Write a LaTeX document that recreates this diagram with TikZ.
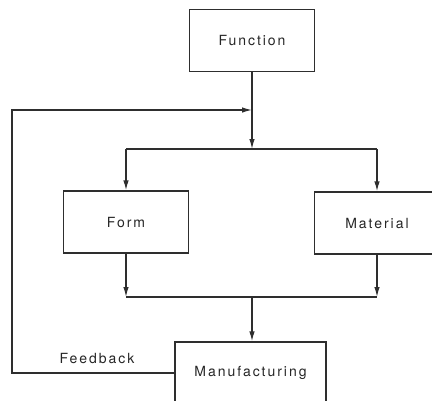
\documentclass[tikz,border=0pt]{standalone}
\usepackage{fontspec}
\setmainfont{TeX Gyre Heros}[LetterSpace=14]
\usetikzlibrary{arrows.meta}
\begin{document}
\begin{tikzpicture}[x=1pt,y=-1pt,
  ink/.style={draw=black!82, line width=1.3pt},
  box/.style={ink, rectangle, minimum width=125pt, minimum height=62pt,
    inner sep=0pt, font=\fontsize{14}{17}\selectfont, text=black!85},
  caption/.style={font=\fontsize{14}{17}\selectfont, text=black!85, inner sep=0pt},
  flow/.style={ink, -{Latex[length=10pt,width=5.5pt]}},
  link/.style={ink}]
\useasboundingbox (0,0) rectangle (432,400);
\clip (0,0) rectangle (432,400);
\fill[white] (0,0) rectangle (432,400);

% blocks
\node[box] (fn) at (252,40.5) {Function};
\node[box] (form) at (126,222) {Form};
\node[box] (mat) at (377,223) {Material};
\node[box, minimum width=151pt] (mfg) at (250.5,373) {Manufacturing};

% junction points
\coordinate (join) at (252,110);
\coordinate (split) at (252,149);
\coordinate (merge) at (252,297);
\coordinate (fbleft) at (12,110);

% Function -> split into Form and Material
\draw[flow] (fn.south) -- (split);
\draw[link] (split -| form.north) -- (split -| mat.north);
\draw[flow] (split -| form.north) -- (form.north);
\draw[flow] (split -| mat.north) -- (mat.north);

% Form and Material merge into Manufacturing
\draw[flow] (form.south) -- (merge -| form.south);
\draw[flow] (mat.south) -- (merge -| mat.south);
\draw[link] (merge -| form.south) -- (merge -| mat.south);
\draw[flow] (merge) -- (merge |- mfg.north);

% feedback loop
\draw[flow] (mfg.west) -| (fbleft) -- (join);
\node[caption] (fb) at (97,358) {Feedback};
\end{tikzpicture}
\end{document}
